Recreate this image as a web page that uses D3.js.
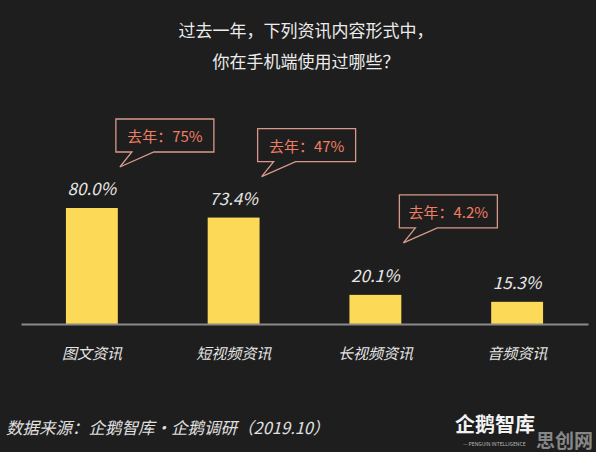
<!doctype html>
<html>
<head>
<meta charset="utf-8">
<title>手机端资讯内容形式</title>
<script src="https://d3js.org/d3.v7.min.js"></script>
<style>
  body { margin: 0; background: #1e1e1e; }
  svg text { font-family: "Noto Sans CJK SC", "Noto Sans", sans-serif; }
</style>
</head>
<body>
<svg width="596" height="452"></svg>
<script>
// data
var categories = ["图文资讯", "短视频资讯", "长视频资讯", "音频资讯"];
var thisYear = [80.0, 73.4, 20.1, 15.3];
var lastYear = ["75%", "47%", "4.2%", null];
var titleLines = ["过去一年，下列资讯内容形式中，", "你在手机端使用过哪些？"];
var source = "数据来源：企鹅智库·企鹅调研（2019.10）";

var svg = d3.select("svg"),
    wid = +svg.attr("width"),
    ht = +svg.attr("height");

svg.append("rect").attr("width", wid).attr("height", ht).attr("fill", "#1e1e1e");

var x = d3.scaleBand()
  .domain(categories)
  .range([21, 588])
  .paddingInner(0.634)
  .paddingOuter(0.317);

var y = d3.scaleLinear()
  .domain([0, 80])
  .range([324, 208]);

// title
svg.append("g").selectAll("text")
  .data(titleLines)
  .enter().append("text")
  .attr("x", 306)
  .attr("y", function(d, i) { return 37 + i * 31; })
  .attr("text-anchor", "middle")
  .attr("fill", "#ececec")
  .style("font-size", "17px")
  .text(function(d) { return d; });

// bars
svg.append("g").selectAll("rect")
  .data(thisYear)
  .enter().append("rect")
  .attr("x", function(d, i) { return x(categories[i]); })
  .attr("y", function(d) { return y(d); })
  .attr("width", x.bandwidth())
  .attr("height", function(d) { return y(0) - y(d); })
  .attr("fill", "#fcd956");

// axis
var axis = svg.append("g")
  .attr("transform", "translate(0," + y(0) + ")")
  .call(d3.axisBottom(x).tickSize(0).tickPadding(24));
axis.select(".domain").attr("stroke", "#8a8a8a").attr("stroke-width", 2);
axis.selectAll("text")
  .attr("fill", "#e6e6e6")
  .style("font-size", "15px")
  .style("font-style", "italic")
  .style("font-family", "'Noto Sans CJK SC', sans-serif");

// value labels
svg.append("g").selectAll("text")
  .data(thisYear)
  .enter().append("text")
  .attr("x", function(d, i) { return x(categories[i]) + x.bandwidth() / 2; })
  .attr("y", function(d) { return y(d) - 13; })
  .attr("text-anchor", "middle")
  .attr("fill", "#e6e6e6")
  .style("font-size", "17px")
  .style("font-style", "italic")
  .text(function(d) { return d.toFixed(1) + "%"; });

// last year callouts, short bars get a bit more room
var bw = 98, bh = 33;
var callouts = svg.append("g").selectAll("g")
  .data(lastYear.map(function(d, i) { return { label: d, cat: categories[i], v: thisYear[i] }; })
    .filter(function(d) { return d.label; }))
  .enter().append("g")
  .attr("transform", function(d) {
    var off = d.v < 30 ? 100 : 89;
    return "translate(" + (x(d.cat) + x.bandwidth() / 2 + 24) + "," + (y(d.v) - off) + ")";
  });

callouts.append("path")
  .attr("d", "M0,0H" + bw + "V" + bh + "H38L4," + (bh + 15) + "L16," + bh + "H0Z")
  .attr("fill", "none")
  .attr("stroke", "#d9998a")
  .attr("stroke-width", 1.3);

callouts.append("text")
  .attr("x", bw / 2)
  .attr("y", 23)
  .attr("text-anchor", "middle")
  .attr("fill", "#f07e62")
  .style("font-size", "15px")
  .text(function(d) { return "去年：" + d.label; });

// footer
svg.append("text")
  .attr("x", 6)
  .attr("y", 434)
  .attr("fill", "#e0e0e0")
  .style("font-size", "16.5px")
  .style("font-style", "italic")
  .text(source);

var logo = svg.append("g").attr("transform", "translate(455,0)");
logo.append("text")
  .attr("x", 0).attr("y", 432)
  .attr("fill", "#f2f2f2")
  .style("font-size", "20px")
  .style("font-weight", "bold")
  .text("企鹅智库");
logo.append("text")
  .attr("x", 8).attr("y", 446)
  .attr("fill", "#bbbbbb")
  .style("font-size", "5px")
  .text("— PENGUIN INTELLIGENCE");

svg.append("text")
  .attr("x", 593).attr("y", 448)
  .attr("text-anchor", "end")
  .attr("fill", "#9a9a9a")
  .attr("opacity", 0.85)
  .style("font-size", "19px")
  .style("font-weight", "bold")
  .text("思创网");
</script>
</body>
</html>
